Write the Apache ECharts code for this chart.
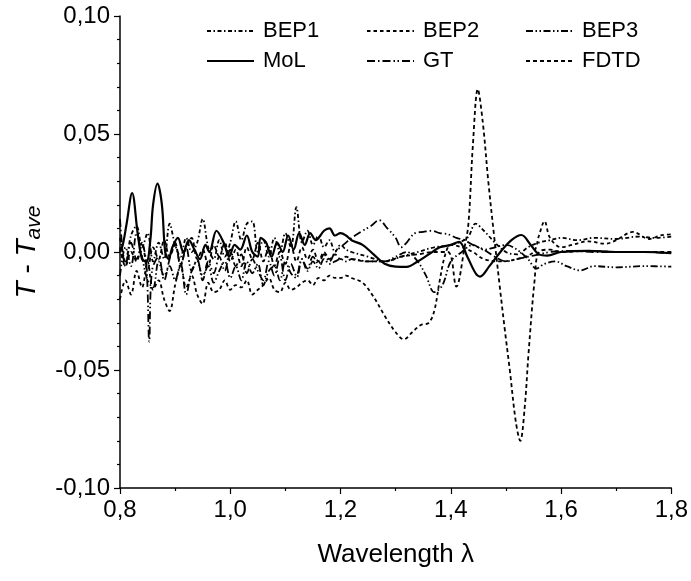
<!DOCTYPE html>
<html><head><meta charset="utf-8">
<script src="https://cdn.jsdelivr.net/npm/echarts@6/dist/echarts.min.js"></script>
<style>html,body{margin:0;padding:0;background:#fff}#c{width:691px;height:581px}</style>
</head><body><div id="c"></div>
<script>
// ---------- data ----------
const seriesNames = ['BEP1', 'BEP2', 'BEP3', 'MoL', 'GT', 'FDTD'];
const yTicks = [-0.10, -0.05, 0.00, 0.05, 0.10];
const xTicks = [0.8, 1.0, 1.2, 1.4, 1.6, 1.8];

const noisyX = [0.80,0.81,0.82,0.83,0.84,0.85,0.86,0.87,0.88,0.89,0.90,0.91,0.92,0.93,0.94,0.95,0.96,0.97,0.98,0.99,1.00,1.01,1.02,1.03,1.04,1.05,1.06,1.07,1.08,1.09,1.10,1.11,1.12,1.13,1.14,1.15,1.16,1.17,1.18,1.19,1.20,1.21,1.22];

const bep1X = noisyX.concat([1.25,1.28,1.31,1.34,1.37,1.40,1.43,1.445,1.46,1.48,1.50,1.52,1.54,1.56,1.58,1.60,1.63,1.66,1.70,1.74,1.77,1.80]);
const bep1Y = [0.006,-0.004,0.007,0.011,0.002,0.008,-0.004,0.004,-0.003,0.012,0.003,-0.002,0.006,0.0,0.004,0.014,0.002,-0.003,0.005,-0.002,0.004,0.013,0.005,0.012,0.013,0.0,0.005,-0.002,0.006,0.0,0.008,0.002,0.019,0.004,0.009,0.003,0.007,0.002,0.005,0.0,0.003,0.001,0.0,
  -0.002,-0.004,-0.002,0.0,0.002,0.003,0.006,0.012,0.009,0.004,0.0,-0.001,0.002,0.004,0.005,0.006,0.005,0.006,0.0055,0.0065,0.006,0.0065];

const bep2X = noisyX.concat([1.24,1.26,1.28,1.30,1.315,1.33,1.345,1.36,1.37,1.38,1.39,1.40,1.42,1.44,1.46,1.49,1.52,1.55,1.56,1.57,1.58,1.60,1.62,1.65,1.68,1.70,1.73,1.76,1.78,1.80]);
const bep2Y = [-0.02,-0.012,-0.018,-0.008,-0.015,-0.004,-0.016,-0.012,-0.02,-0.025,-0.014,-0.006,-0.015,-0.01,-0.018,-0.022,-0.013,-0.017,-0.016,-0.012,-0.016,-0.014,-0.015,-0.012,-0.018,-0.016,-0.014,-0.011,-0.016,-0.017,-0.013,-0.016,-0.015,-0.013,-0.012,-0.014,-0.011,-0.012,-0.01,-0.011,-0.011,-0.01,-0.011,
  -0.013,-0.019,-0.027,-0.034,-0.037,-0.034,-0.031,-0.030,-0.025,-0.012,-0.001,0.003,0.002,0.0,-0.003,-0.004,-0.003,0.0,0.007,0.013,0.006,0.002,0.003,0.0045,0.0035,0.005,0.0085,0.0055,0.007,0.0075];

const bep3X = noisyX.concat([1.25,1.28,1.30,1.32,1.34,1.355,1.37,1.385,1.40,1.42,1.44,1.46,1.48,1.50,1.52,1.54,1.555,1.57,1.59,1.61,1.635,1.66,1.70,1.75,1.80]);
const bep3Y = [-0.01,0.002,-0.006,0.008,-0.002,-0.012,-0.015,-0.004,-0.01,-0.006,-0.012,-0.005,-0.018,-0.008,-0.004,-0.01,-0.006,-0.013,-0.008,-0.004,-0.011,-0.006,-0.012,-0.004,-0.009,-0.005,-0.014,-0.008,-0.006,-0.012,-0.004,-0.009,-0.011,-0.003,-0.008,-0.004,-0.007,-0.003,-0.005,-0.004,-0.003,-0.004,-0.003,
  -0.004,-0.004,-0.002,0.0,-0.004,-0.01,-0.017,-0.014,-0.004,0.0,0.003,0.001,0.002,0.003,0.001,-0.003,-0.007,-0.005,-0.004,-0.006,-0.0078,-0.006,-0.0065,-0.006,-0.0062];

const molX = [0.80,0.805,0.812,0.822,0.832,0.84,0.848,0.855,0.86,0.868,0.876,0.882,0.888,0.895,0.905,0.915,0.925,0.935,0.945,0.955,0.962,0.975,0.988,0.998,1.008,1.018,1.03,1.04,1.05,1.055,1.065,1.075,1.085,1.095,1.105,1.115,1.125,1.135,1.145,1.155,1.17,1.18,1.19,1.20,1.21,1.22,1.24,1.26,1.28,1.30,1.32,1.34,1.36,1.38,1.40,1.415,1.43,1.445,1.453,1.47,1.49,1.51,1.528,1.545,1.56,1.575,1.60,1.65,1.70,1.75,1.80];
const molY = [0.0,0.003,0.012,0.025,0.008,-0.003,-0.004,0.005,0.02,0.029,0.02,0.0,-0.003,0.002,0.006,0.0,0.005,0.001,-0.003,0.003,0.0,0.009,0.004,-0.002,0.003,0.001,0.007,0.0,-0.002,0.006,0.004,-0.002,0.004,0.0,0.007,0.001,0.008,0.003,0.008,0.005,0.009,0.01,0.007,0.008,0.007,0.005,0.003,-0.001,-0.005,-0.0062,-0.0063,-0.004,-0.001,0.002,0.003,0.0043,-0.002,-0.009,-0.0104,-0.006,0.0,0.005,0.0072,0.003,-0.001,-0.0015,0.0,0.0005,0.0,0.0,-0.0005];

const gtX = [0.80,0.81,0.82,0.83,0.84,0.848,0.853,0.858,0.87,0.88,0.89,0.90,0.91,0.92,0.93,0.94,0.95,0.96,0.97,0.98,0.99,1.00,1.01,1.02,1.03,1.04,1.05,1.06,1.07,1.08,1.09,1.10,1.11,1.12,1.13,1.14,1.15,1.16,1.17,1.18,1.19,1.20,1.21,1.22,1.24,1.255,1.27,1.285,1.30,1.31,1.32,1.335,1.35,1.365,1.38,1.395,1.41,1.425,1.44,1.46,1.48,1.50,1.52,1.54,1.56,1.58,1.62,1.66,1.70,1.75,1.80];
const gtY = [0.014,-0.006,0.004,-0.003,0.003,-0.006,-0.038,-0.008,-0.002,-0.012,-0.003,0.004,-0.006,0.002,-0.008,-0.003,-0.012,-0.004,-0.009,-0.002,-0.008,0.001,-0.006,-0.001,-0.009,-0.003,-0.008,-0.012,-0.004,-0.01,-0.002,-0.012,-0.005,-0.01,-0.003,-0.007,-0.002,-0.005,-0.001,-0.004,0.0,0.002,0.004,0.006,0.009,0.011,0.0135,0.01,0.006,0.002,0.004,0.008,0.0085,0.009,0.008,0.0075,0.006,0.005,0.003,0.001,-0.002,-0.004,-0.003,-0.002,-0.001,0.0,0.0005,0.0,0.0,0.0,-0.0005];

const fdtdX = noisyX.concat([1.25,1.28,1.31,1.34,1.37,1.395,1.41,1.425,1.432,1.44,1.449,1.458,1.468,1.478,1.489,1.498,1.507,1.518,1.526,1.534,1.541,1.552,1.56,1.58,1.60,1.65,1.70,1.75,1.80]);
const fdtdY = [0.002,-0.006,0.0,-0.004,0.004,-0.008,0.002,-0.003,0.005,-0.002,0.003,-0.005,0.002,0.006,-0.003,0.001,-0.006,0.003,-0.002,0.004,-0.004,0.001,-0.006,0.002,-0.003,0.004,-0.004,0.002,-0.006,0.0,-0.005,0.003,-0.004,0.002,-0.003,0.001,-0.004,0.0,-0.003,-0.001,-0.003,-0.002,-0.003,
  -0.004,-0.004,-0.002,-0.001,0.0,0.0,-0.0147,0.002,0.012,0.045,0.069,0.055,0.03,0.008,-0.015,-0.033,-0.05,-0.072,-0.08,-0.066,-0.043,-0.012,0.0,0.001,0.0,0.0005,0.0,0.0,0.0];

// ---------- chart ----------
const FONT = "'Liberation Sans',Arial,Helvetica,sans-serif";
const zip = (xs, ys) => xs.map((x, i) => [x, ys[i]]);
const dashes = {
  BEP1: [4, 2.5, 1.5, 2.5],
  BEP2: [3.5, 3],
  BEP3: [7, 2.5, 1.5, 2.5, 1.5, 2.5],
  MoL: 'solid',
  GT: [8, 3, 1.5, 3, 8, 3, 1.5, 2.5, 1.5, 3],
  FDTD: [4, 3]
};
const seriesData = {
  BEP1: zip(bep1X, bep1Y), BEP2: zip(bep2X, bep2Y), BEP3: zip(bep3X, bep3Y),
  MoL: zip(molX, molY), GT: zip(gtX, gtY), FDTD: zip(fdtdX, fdtdY)
};
const legendPos = {
  BEP1: [206, 20], BEP2: [366, 20], BEP3: [525, 20],
  MoL: [206, 50], GT: [366, 50], FDTD: [525, 50]
};

const chart = echarts.init(document.getElementById('c'), null, {renderer: 'canvas'});
chart.setOption({
  animation: false,
  backgroundColor: '#fff',
  textStyle: {fontFamily: FONT, color: '#000'},
  grid: {left: 120, right: 16, top: 16, bottom: 93, containLabel: false},
  legend: seriesNames.map(n => ({
    data: [n], left: legendPos[n][0], top: legendPos[n][1], padding: 0,
    itemWidth: 47, itemHeight: 12, itemGap: 0,
    itemStyle: {opacity: 0},
    textStyle: {fontFamily: FONT, fontSize: 22, color: '#000', padding: [0, 0, 0, 4]},
    selectedMode: false
  })),
  xAxis: {
    type: 'value', min: xTicks[0], max: xTicks[xTicks.length - 1], interval: 0.2,
    name: 'Wavelength λ', nameLocation: 'middle', nameGap: 54,
    nameTextStyle: {fontFamily: FONT, fontSize: 26, color: '#000'},
    axisLine: {onZero: false, lineStyle: {color: '#000', width: 1.5}},
    axisTick: {length: 6, lineStyle: {color: '#000', width: 1.2}},
    minorTick: {show: true, splitNumber: 2, length: 3, lineStyle: {color: '#000', width: 1.2}},
    splitLine: {show: false},
    axisLabel: {fontFamily: FONT, fontSize: 24, color: '#000', margin: 10,
      formatter: v => v.toFixed(1).replace('.', ',')}
  },
  yAxis: {
    type: 'value', min: yTicks[0], max: yTicks[yTicks.length - 1], interval: 0.05,
    name: '{i|T} - {i|T}{s|ave}', nameLocation: 'middle', nameGap: 72, nameRotate: 90,
    nameTextStyle: {fontFamily: FONT, fontSize: 28, color: '#000',
      rich: {
        i: {fontFamily: FONT, fontSize: 28, fontStyle: 'italic', color: '#000'},
        s: {fontFamily: FONT, fontSize: 21, fontStyle: 'italic', color: '#000', padding: [13, 0, 0, 0]}
      }},
    axisLine: {show: true, onZero: false, lineStyle: {color: '#000', width: 1.5}},
    axisTick: {show: true, length: 6, lineStyle: {color: '#000', width: 1.2}},
    minorTick: {show: true, splitNumber: 5, length: 3, lineStyle: {color: '#000', width: 1.2}},
    splitLine: {show: false},
    axisLabel: {fontFamily: FONT, fontSize: 24, color: '#000', margin: 10,
      formatter: v => v.toFixed(2).replace('.', ',')}
  },
  series: seriesNames.map(n => ({
    name: n, type: 'line', data: seriesData[n], symbol: 'none', smooth: 0.35,
    lineStyle: {color: '#000', width: n === 'MoL' ? 2.2 : 1.8, type: dashes[n]},
    itemStyle: {color: '#000'},
    z: n === 'MoL' ? 3 : 2
  }))
});
</script></body></html>
